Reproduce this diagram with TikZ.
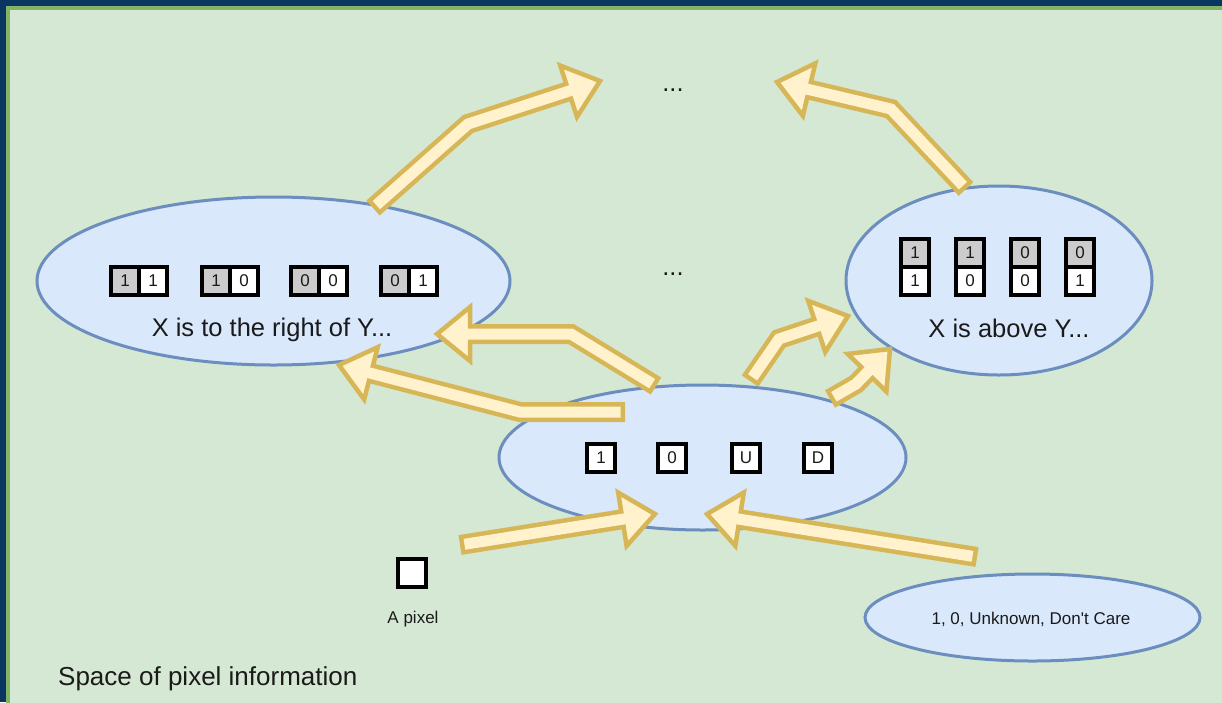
\documentclass[tikz,border=0pt]{standalone}
\usepackage{fontspec}
\setmainfont{Liberation Sans}
\usetikzlibrary{calc,shapes.geometric}

\definecolor{navy}{RGB}{8,54,97}
\definecolor{pagegreen}{HTML}{D5E8D4}
\definecolor{pageedge}{HTML}{82B366}
\definecolor{bubblefill}{HTML}{DAE8FC}
\definecolor{bubbleedge}{HTML}{6C8EBF}
\definecolor{arrowfill}{HTML}{FFF2CC}
\definecolor{arrowedge}{HTML}{D6B656}
\definecolor{cellgray}{HTML}{CCCCCC}
\definecolor{ink}{HTML}{1A1A1A}

% Broad "flex" arrow: #1 body path ending at point #2, #3 is the tip
\newcommand{\fatarrow}[3]{%
  \coordinate (fa-b) at ($(#3)!33pt!(#2)$);
  \coordinate (fa-l) at ($(fa-b)!27pt!90:(#3)$);
  \coordinate (fa-r) at ($(fa-b)!27pt!-90:(#3)$);
  \draw[arrowout] #1 -- (fa-b);
  \filldraw[arrowhead] (fa-l) -- (#3) -- (fa-r) -- cycle;
  \draw[arrowin] #1 -- ($(fa-b)!4pt!(#3)$);
}

\tikzset{
  bubble/.style={ellipse, draw=bubbleedge, fill=bubblefill, line width=3pt, inner sep=0pt},
  label25/.style={text=ink, font=\fontsize{25.5}{30}\selectfont, inner sep=0pt, anchor=base},
  label17/.style={text=ink, font=\fontsize{17}{20}\selectfont, inner sep=0pt, anchor=base},
  cell/.style={draw=black, line width=4.5pt, fill=white, minimum width=28pt, minimum height=28pt,
               inner sep=0pt, text=ink, font=\fontsize{17}{17}\selectfont},
  graycell/.style={cell, fill=cellgray},
  arrowout/.style={draw=arrowedge, line width=20pt, line join=miter},
  arrowin/.style={draw=arrowfill, line width=11pt, line join=miter, shorten <=4.5pt},
  arrowhead/.style={fill=arrowfill, draw=arrowedge, line width=4.5pt, line join=miter},
}

\begin{document}
\begin{tikzpicture}[x=1pt, y=-1pt]
  \useasboundingbox (0,0) rectangle (1222,702);
  \clip (0,0) rectangle (1222,702);

  % page background and frame
  \fill[navy] (0,0) rectangle (1222,702);
  \filldraw[fill=pagegreen, draw=pageedge, line width=3.5pt] (8,8) rectangle (1240,720);

  % ellipses
  \node[bubble, minimum width=473pt, minimum height=168pt] (rightof) at (273.5,281) {};
  \node[bubble, minimum width=306pt, minimum height=189pt] (above) at (999,280.5) {};
  \node[bubble, minimum width=407pt, minimum height=145pt] (pixvals) at (702.5,457.5) {};
  \node[bubble, minimum width=335pt, minimum height=87pt] (valset) at (1032.5,617.5) {};

  % horizontal pairs
  \node[graycell] (h1a) at (125,281) {1}; \node[cell] (h1b) at (153,281) {1};
  \node[graycell] (h2a) at (216,281) {1}; \node[cell] (h2b) at (244,281) {0};
  \node[graycell] (h3a) at (305,281) {0}; \node[cell] (h3b) at (333,281) {0};
  \node[graycell] (h4a) at (395,281) {0}; \node[cell] (h4b) at (423,281) {1};

  % vertical pairs
  \node[graycell] (v1a) at (915,253) {1}; \node[cell] (v1b) at (915,281) {1};
  \node[graycell] (v2a) at (970,253) {1}; \node[cell] (v2b) at (970,281) {0};
  \node[graycell] (v3a) at (1025,253) {0}; \node[cell] (v3b) at (1025,281) {0};
  \node[graycell] (v4a) at (1080,253) {0}; \node[cell] (v4b) at (1080,281) {1};

  % single pixel values
  \node[cell] (p1) at (601,458) {1};
  \node[cell] (p0) at (672,458) {0};
  \node[cell] (pu) at (746,458) {U};
  \node[cell] (pd) at (818,458) {D};

  % a lone pixel
  \node[cell] (pixel) at (412,573) {};

  % texts
  \node[label25] (rightoftxt) at (272,336) {X is to the right of Y...};
  \node[label25] (abovetxt) at (1009,337) {X is above Y...};
  \node[label25] (dotstop) at (673,91) {...};
  \node[label25] (dotsmid) at (673,275) {...};
  \node[label17] (pixeltxt) at (413,623) {A pixel};
  \node[label17] (valsettxt) at (1031,624) {1, 0, Unknown, Don\textquotesingle t Care};
  \node[text=ink, font=\fontsize{26}{30}\selectfont, inner sep=0pt, anchor=base west] (spacetxt) at (58,685) {Space of pixel information};

  % arrow way points
  \coordinate (a1t) at (373,208); \coordinate (a1k) at (468,124); \coordinate (a1h) at (600,81);
  \coordinate (a2t) at (966,189); \coordinate (a2k) at (891,109); \coordinate (a2h) at (777,82);
  \coordinate (a3t) at (656,386); \coordinate (a3k) at (571,334); \coordinate (a3h) at (437,334);
  \coordinate (a4t) at (625,412); \coordinate (a4k) at (520,412); \coordinate (a4h) at (339,365);
  \coordinate (a5t) at (750,381); \coordinate (a5k) at (779,339); \coordinate (a5h) at (848,316);
  \coordinate (a6t) at (830,399); \coordinate (a6k) at (856,384); \coordinate (a6h) at (890,349);
  \coordinate (a7t) at (460,545); \coordinate (a7h) at (655,514);
  \coordinate (a8t) at (977,557); \coordinate (a8h) at (707,514);

  % arrows
  \fatarrow{(a1t) -- (a1k)}{a1k}{a1h}
  \fatarrow{(a2t) -- (a2k)}{a2k}{a2h}
  \fatarrow{(a3t) -- (a3k)}{a3k}{a3h}
  \fatarrow{(a4t) -- (a4k)}{a4k}{a4h}
  \fatarrow{(a5t) -- (a5k)}{a5k}{a5h}
  \fatarrow{(a6t) -- (a6k)}{a6k}{a6h}
  \fatarrow{(a7t)}{a7t}{a7h}
  \fatarrow{(a8t)}{a8t}{a8h}
\end{tikzpicture}
\end{document}
